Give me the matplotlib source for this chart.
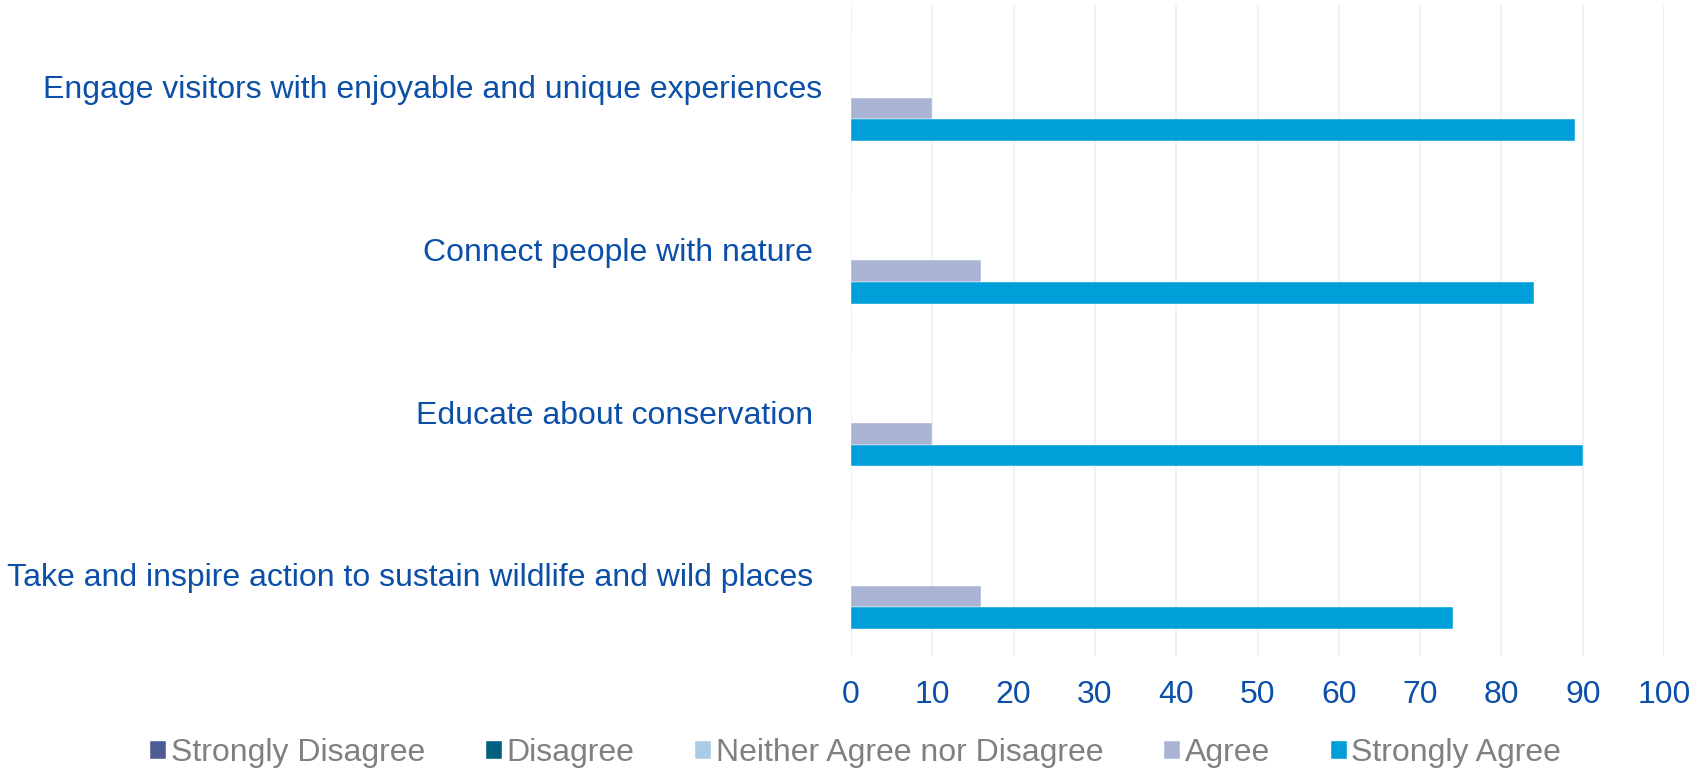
import numpy as np
import matplotlib.pyplot as plt

plt.rcParams['font.family'] = ['Liberation Sans', 'DejaVu Sans']

categories = ["Engage visitors with enjoyable and unique experiences",
              "Connect people with nature ",
              "Educate about conservation ",
              "Take and inspire action to sustain wildlife and wild places "]
series = ["Strongly Disagree", "Disagree", "Neither Agree nor Disagree",
          "Agree", "Strongly Agree"]
strongly_disagree = [0, 0, 0, 0]
disagree = [0, 0, 0, 0]
neither = [0, 0, 0, 0]
agree = [10, 16, 10, 16]
strongly_agree = [89, 84, 90, 74]
colors = ["#4F5B93", "#00607F", "#A8CCE8", "#A9B3D4", "#009FD9"]

values = [strongly_disagree, disagree, neither, agree, strongly_agree]

fig = plt.figure(figsize=(17.01, 7.70), dpi=100)
ax = fig.add_axes([0.5003, 0.148, 0.478, 0.845])

y = np.arange(len(categories))
h = 0.1333
for i, (name, vals) in enumerate(zip(series, values)):
    ax.barh(y + (i - 2) * h, vals, height=h, color=colors[i], label=name,
            edgecolor="white", linewidth=0.3)

ax.set_ylim(len(categories) - 0.5, -0.5)
ax.set_xlim(0, 100)
ax.set_xticks(range(0, 101, 10))
ax.set_yticks(y)
ax.set_yticklabels(categories)
ax.tick_params(axis="both", length=0, labelsize=23, colors="#0B4FA8")
ax.tick_params(axis="y", pad=21)
ax.tick_params(axis="x", pad=17)
ax.grid(axis="x", color="#EFEFEF", linewidth=1.2)
ax.set_axisbelow(True)
for s in ax.spines.values():
    s.set_visible(False)

handles, labels = ax.get_legend_handles_labels()
leg = fig.legend(handles, labels, loc="center", bbox_to_anchor=(0.503, 0.022),
                 ncol=5, frameon=False, fontsize=23, handlelength=0.5,
                 handleheight=0.5, handletextpad=0.15, columnspacing=1.9)
for t in leg.get_texts():
    t.set_color("#808080")

fig.savefig("out.png", dpi=100)
